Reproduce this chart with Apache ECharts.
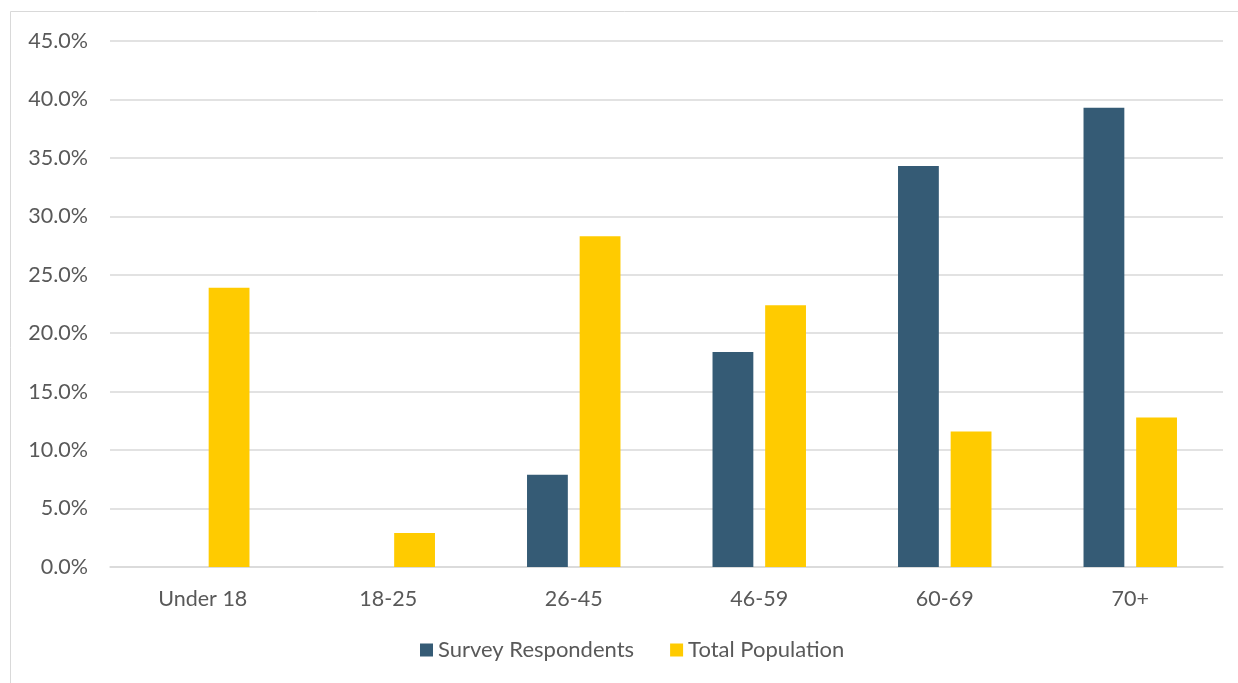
<!DOCTYPE html>
<html>
<head>
<meta charset="utf-8">
<script src="https://cdn.jsdelivr.net/npm/echarts@6/dist/echarts.min.js"></script>
<style>
  html, body { margin: 0; padding: 0; background: #ffffff; }
  #chart { width: 1238px; height: 683px; }
</style>
</head>
<body>
<div id="chart"></div>
<script>
// Age groups on the category axis
const categories = ['Under 18', '18-25', '26-45', '46-59', '60-69', '70+'];
// Share of each age group, in percent
const surveyRespondents = [0, 0, 7.9, 18.4, 34.3, 39.3];
const totalPopulation = [23.9, 2.9, 28.3, 22.4, 11.6, 12.8];
// Value axis ticks (percent)
const yMin = 0;
const yMax = 45;
const yStep = 5;

const textColor = '#595959';
const fontFamily = 'Lato, "Open Sans", sans-serif';
const fontSize = 21.5;

const chart = echarts.init(document.getElementById('chart'), null, { renderer: 'canvas' });

chart.setOption({
  backgroundColor: '#ffffff',
  animation: false,
  graphic: [{
    type: 'rect',
    shape: { x: 10.5, y: 11.5, width: 1240, height: 690 },
    style: { fill: 'none', stroke: '#d9d9d9', lineWidth: 1 },
    silent: true,
    z: 0
  }],
  grid: { left: 110, right: 15, top: 41, bottom: 116, containLabel: false },
  legend: {
    bottom: 17,
    left: 415,
    itemWidth: 13,
    itemHeight: 13,
    itemGap: 36,
    icon: 'rect',
    textStyle: { color: textColor, fontSize: 22, fontFamily: fontFamily },
    data: ['Survey Respondents', 'Total Population']
  },
  xAxis: {
    type: 'category',
    data: categories,
    axisLine: { show: true, lineStyle: { color: '#d9d9d9', width: 1.5 } },
    axisTick: { show: false },
    axisLabel: { color: textColor, fontSize: fontSize, fontFamily: fontFamily, margin: 21 }
  },
  yAxis: {
    type: 'value',
    min: yMin,
    max: yMax,
    interval: yStep,
    axisLine: { show: false },
    axisTick: { show: false },
    splitLine: { lineStyle: { color: '#d9d9d9', width: 1.5 } },
    axisLabel: {
      color: textColor, fontSize: fontSize, fontFamily: fontFamily, margin: 22,
      formatter: v => v.toFixed(1) + '%'
    }
  },
  series: [
    {
      name: 'Survey Respondents',
      type: 'bar',
      data: surveyRespondents,
      barWidth: '22%',
      barGap: '29%',
      itemStyle: { color: '#355B75' }
    },
    {
      name: 'Total Population',
      type: 'bar',
      data: totalPopulation,
      barWidth: '22%',
      itemStyle: { color: '#FFCB00' }
    }
  ]
});
</script>
</body>
</html>
